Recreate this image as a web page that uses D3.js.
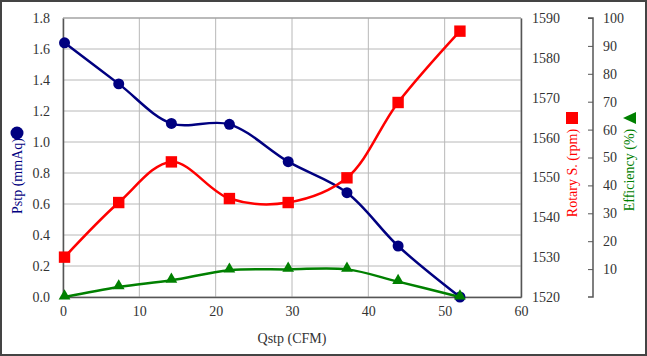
<!DOCTYPE html>
<html><head><meta charset="utf-8">
<script src="https://cdn.jsdelivr.net/npm/d3@7"></script>
<style>body{margin:0;background:#fff}svg{display:block}text{font-family:"Liberation Serif","Times New Roman",serif}</style>
</head><body><svg id="c" width="647" height="356"></svg>
<script>
const qstp = [0.2, 7.3, 14.2, 21.8, 29.5, 37.2, 43.9, 52.0];
const pstp = [1.64, 1.375, 1.12, 1.114, 0.873, 0.673, 0.329, 0.0];
const rpm = [1530.0, 1543.7, 1553.9, 1544.7, 1543.7, 1549.9, 1568.8, 1586.7];
const eff = [0.0, 3.6, 6.0, 9.6, 9.9, 9.9, 5.5, 0.0];
const xTicks = [0, 10, 20, 30, 40, 50, 60];
const pTicks = [0, 0.2, 0.4, 0.6, 0.8, 1.0, 1.2, 1.4, 1.6, 1.8];
const rTicks = [1520, 1530, 1540, 1550, 1560, 1570, 1580, 1590];
const eTicks = [10, 20, 30, 40, 50, 60, 70, 80, 90, 100];

const svg = d3.select("#c");
const L = 63, R = 521, T = 18, B = 297;
const x = d3.scaleLinear().domain([0, 60]).range([L, R]);
const yP = d3.scaleLinear().domain([0, 1.8]).range([B, T]);
const yR = d3.scaleLinear().domain([1520, 1590]).range([B, T]);
const yE = d3.scaleLinear().domain([0, 100]).range([B, T]);

// outer frame
svg.append("rect").attr("x", 1).attr("y", 1).attr("width", 645).attr("height", 354)
  .attr("fill", "#fff").attr("stroke", "#444").attr("stroke-width", 2);

// grid
const g = svg.append("g");
g.selectAll("line.h").data(pTicks).join("line")
  .attr("x1", L).attr("x2", R).attr("y1", d => yP(d)).attr("y2", d => yP(d))
  .attr("stroke", "#b8b8b8").attr("stroke-width", 1);
g.selectAll("line.v").data(xTicks).join("line")
  .attr("y1", T).attr("y2", B).attr("x1", d => x(d)).attr("x2", d => x(d))
  .attr("stroke", "#b8b8b8").attr("stroke-width", 1);

// axes
const ax = svg.append("g").attr("font-size", 14).attr("fill", "#333");
const xa = svg.append("g").attr("transform", `translate(0,${B})`)
  .call(d3.axisBottom(x).tickValues(xTicks).tickSize(0).tickPadding(9).tickFormat(d3.format("d")));
const ya = svg.append("g").attr("transform", `translate(${L},0)`)
  .call(d3.axisLeft(yP).tickValues(pTicks).tickSize(0).tickPadding(13).tickFormat(d3.format(".1f")));
const ra = svg.append("g").attr("transform", `translate(${R},0)`)
  .call(d3.axisRight(yR).tickValues(rTicks).tickSize(0).tickPadding(11).tickFormat(d3.format("d")));
const ea = svg.append("g").attr("transform", `translate(593,0)`)
  .call(d3.axisLeft(yE).tickValues(eTicks).tickSize(5).tickFormat(d3.format("d")));
ea.selectAll("text").attr("text-anchor", "start").attr("x", 10);
[xa, ya, ra, ea].forEach(a => {
  a.selectAll("text").attr("font-size", 14).attr("fill", "#333")
    .attr("font-family", '"Liberation Serif", serif');
  a.select(".domain").attr("stroke", "#555").attr("stroke-width", 1.5);
  a.selectAll(".tick line").attr("stroke", "#555");
});
ea.select(".domain").attr("d", `M-5,${yE(100)}H0V${B}H-5`);
// top border
svg.append("line").attr("x1", L).attr("x2", R).attr("y1", T).attr("y2", T)
  .attr("stroke", "#999").attr("stroke-width", 1);

// series
const curve = d3.curveCatmullRom.alpha(0.5);
const series = [
  {v: pstp, y: yP, c: "#000080", m: "circle"},
  {v: rpm, y: yR, c: "#ff0000", m: "square"},
  {v: eff, y: yE, c: "#008000", m: "triangle"}
];
series.forEach(s => {
  const pts = qstp.map((q, i) => [x(q), s.y(s.v[i])]);
  svg.append("path").attr("d", d3.line().curve(curve)(pts))
    .attr("fill", "none").attr("stroke", s.c).attr("stroke-width", 2.5);
  const sym = s.m === "circle" ? d3.symbol(d3.symbolCircle, 95)
    : s.m === "square" ? d3.symbol(d3.symbolSquare, 130)
    : d3.symbol(d3.symbolTriangle, 60);
  svg.selectAll(null).data(pts).join("path")
    .attr("transform", d => `translate(${d[0]},${d[1] - (s.m === "triangle" ? 1 : 0)})`)
    .attr("d", sym).attr("fill", s.c);
});

// axis titles
svg.append("text").attr("x", 292).attr("y", 343).attr("text-anchor", "middle")
  .attr("font-size", 14).attr("fill", "#333").text("Qstp (CFM)");
svg.append("text").attr("transform", "translate(22,176) rotate(-90)").attr("text-anchor", "middle")
  .attr("font-size", 14).attr("fill", "#000080").text("Pstp (mmAq)");
svg.append("circle").attr("cx", 17).attr("cy", 133).attr("r", 6.5).attr("fill", "#000080");
svg.append("text").attr("transform", "translate(577,173) rotate(-90)").attr("text-anchor", "middle")
  .attr("font-size", 14).attr("fill", "#ff0000").text("Rotary S. (rpm)");
svg.append("rect").attr("x", 566).attr("y", 112).attr("width", 12).attr("height", 12).attr("fill", "#ff0000");
svg.append("text").attr("transform", "translate(634,170) rotate(-90)").attr("text-anchor", "middle")
  .attr("font-size", 14).attr("fill", "#008000").text("Efficiency (%)");
svg.append("path").attr("d", "M623,118L636,112V124Z").attr("fill", "#008000");
</script></body></html>
